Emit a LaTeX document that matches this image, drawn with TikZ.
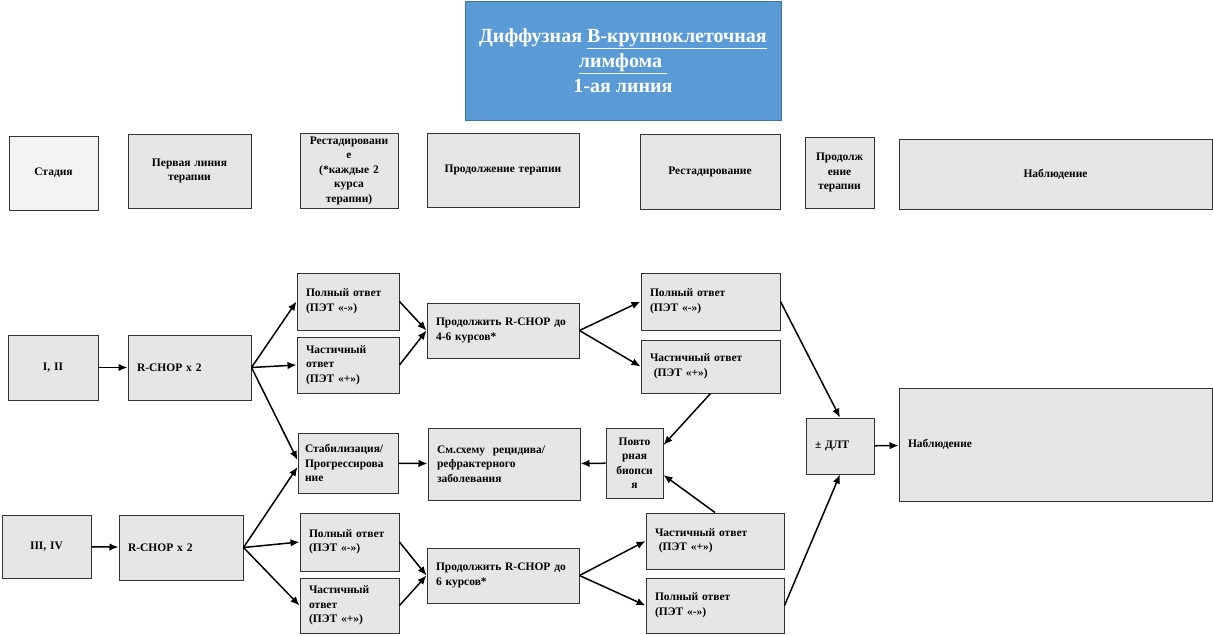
\documentclass[tikz,border=0pt]{standalone}
\usepackage{fontspec}
\setmainfont{Liberation Serif}
\usetikzlibrary{arrows.meta}
\definecolor{titleblue}{RGB}{91,155,213}
\definecolor{titleedge}{RGB}{65,113,156}
\definecolor{boxgray}{RGB}{230,230,230}
\definecolor{stagegray}{RGB}{243,243,243}

\begin{document}
\begin{tikzpicture}[x=1pt,y=-1pt,
    box/.style={draw=black!80, fill=boxgray, line width=1pt, inner xsep=9pt, inner ysep=3pt,
      align=left, font=\fontsize{11.5}{14.5}\selectfont\bfseries},
    hbox/.style={box, inner xsep=3pt, align=center},
    arr/.style={-{Latex[length=9pt,width=7.5pt]}, line width=1.5pt}]
    \useasboundingbox (0,0) rectangle (1213,635);
    % title
    \node[draw=titleedge, fill=titleblue, line width=0.8pt, minimum width=316, minimum height=119,
      text=white, align=center, font=\fontsize{20}{25}\selectfont\bfseries] (title) at (623,60.5)
      {Диффузная \underline{В-крупноклеточная}\\\underline{лимфома\ }\\1-ая линия};
    % headers
    \node[hbox, fill=stagegray, minimum width=89, minimum height=74, text width=83pt] (hStage) at (53.5,173) {Стадия};
    \node[hbox, minimum width=123, minimum height=74, text width=117pt] (hFirst) at (189.5,171) {Первая линия\\терапии};
    \node[hbox, minimum width=98, minimum height=75, text width=92pt] (hRestage) at (349,170.5)
      {Рестадировани\\е\\(*каждые 2\\курса\\терапии)};
    \node[hbox, minimum width=152, minimum height=74, text width=146pt] (hCont) at (503,170) {Продолжение терапии};
    \node[hbox, minimum width=140, minimum height=75, text width=134pt] (hRestageB) at (710,171.5) {Рестадирование};
    \node[hbox, minimum width=69, minimum height=71, text width=63pt] (hContB) at (839.5,172.5) {Продолж\\ение\\терапии};
    \node[hbox, minimum width=313, minimum height=70, text width=307pt] (hObs) at (1055.5,174) {Наблюдение};
    % stages I, II
    \node[hbox, minimum width=90, minimum height=65, text width=84pt] (st12) at (53,367.5) {I, II};
    \node[box, minimum width=123, minimum height=65, text width=105pt] (rchop1) at (189.5,367.5) {R-CHOP x 2};
    \node[box, minimum width=100, minimum height=57, text width=84pt] (cr1) at (348,301.5) {Полный ответ\\(ПЭТ «-»)};
    \node[box, minimum width=100, minimum height=56, text width=84pt] (pr1) at (348,365) {Частичный\\ответ\\(ПЭТ «+»)};
    \node[box, minimum width=150, minimum height=55, text width=134pt] (cont1) at (503,330.5)
      {Продолжить R-CHOP до\\4-6 курсов*};
    \node[box, minimum width=139, minimum height=57, text width=121pt] (cr2) at (710.5,301.5) {Полный ответ\\(ПЭТ «-»)};
    \node[box, minimum width=139, minimum height=53, text width=121pt] (pr2) at (710.5,366.5) {Частичный ответ\\\ (ПЭТ «+»)};
    % middle row
    \node[box, minimum width=100, minimum height=60, text width=86pt, inner xsep=7pt] (stab) at (348,463)
      {Стабилизация/\\Прогрессирова\\ние};
    \node[box, minimum width=152, minimum height=72, text width=134pt] (relapse) at (504,464)
      {См.схему\ \ рецидива/\\рефрактерного\\заболевания};
    \node[hbox, minimum width=57, minimum height=70, text width=51pt] (biopsy) at (634.5,463) {Повто\\рная\\биопси\\я};
    \node[box, minimum width=68, minimum height=56, text width=50pt] (rt) at (840,446) {± ДЛТ};
    \node[box, minimum width=313, minimum height=113, text width=295pt] (obs) at (1055.5,444.5) {Наблюдение};
    % stages III, IV
    \node[hbox, minimum width=89, minimum height=63, text width=83pt] (st34) at (46.5,546.5) {III, IV};
    \node[box, minimum width=124, minimum height=65, text width=106pt] (rchop2) at (181,547.5) {R-CHOP x 2};
    \node[box, minimum width=97, minimum height=58, text width=81pt] (cr3) at (349.5,542) {Полный ответ\\(ПЭТ «-»)};
    \node[box, minimum width=97, minimum height=55, text width=81pt] (pr3) at (349.5,605.5) {Частичный\\ответ\\(ПЭТ «+»)};
    \node[box, minimum width=150, minimum height=55, text width=134pt] (cont2) at (503,575.5)
      {Продолжить R-CHOP до\\6 курсов*};
    \node[box, minimum width=138, minimum height=56, text width=120pt] (pr4) at (715,541) {Частичный ответ\\\ (ПЭТ «+»)};
    \node[box, minimum width=138, minimum height=55, text width=120pt] (cr4) at (715,605.5) {Полный ответ\\(ПЭТ «-»)};
    % connectors
    \draw[arr] (st12) -- (rchop1);
    \draw[arr] (rchop1.east) -- (cr1.west);
    \draw[arr] (rchop1.east) -- (pr1.west);
    \draw[arr] (rchop1.east) -- ([yshift=3pt]stab.west);
    \draw[arr] (st34) -- (rchop2);
    \draw[arr] (rchop2.east) -- ([yshift=-4pt]stab.west);
    \draw[arr] (rchop2.east) -- (cr3.west);
    \draw[arr] (rchop2.east) -- (pr3.west);
    \draw[arr] (cr1.east) -- (cont1.west);
    \draw[arr] (pr1.east) -- (cont1.west);
    \draw[arr] (cont1.east) -- (cr2.west);
    \draw[arr] (cont1.east) -- (pr2.west);
    \draw[arr] (cr2.east) -- (rt.north);
    \draw[arr] (pr2.south) -- ([yshift=18pt]biopsy.east);
    \draw[arr] (pr4.north) -- ([yshift=-12pt]biopsy.east);
    \draw[arr] (biopsy) -- (relapse);
    \draw[arr] (stab) -- (relapse);
    \draw[arr] (cr3.east) -- (cont2.west);
    \draw[arr] (pr3.east) -- (cont2.west);
    \draw[arr] (cont2.east) -- (pr4.west);
    \draw[arr] (cont2.east) -- (cr4.west);
    \draw[arr] (cr4.east) -- (rt.south);
    \draw[arr] (rt) -- (obs);
\end{tikzpicture}
\end{document}
